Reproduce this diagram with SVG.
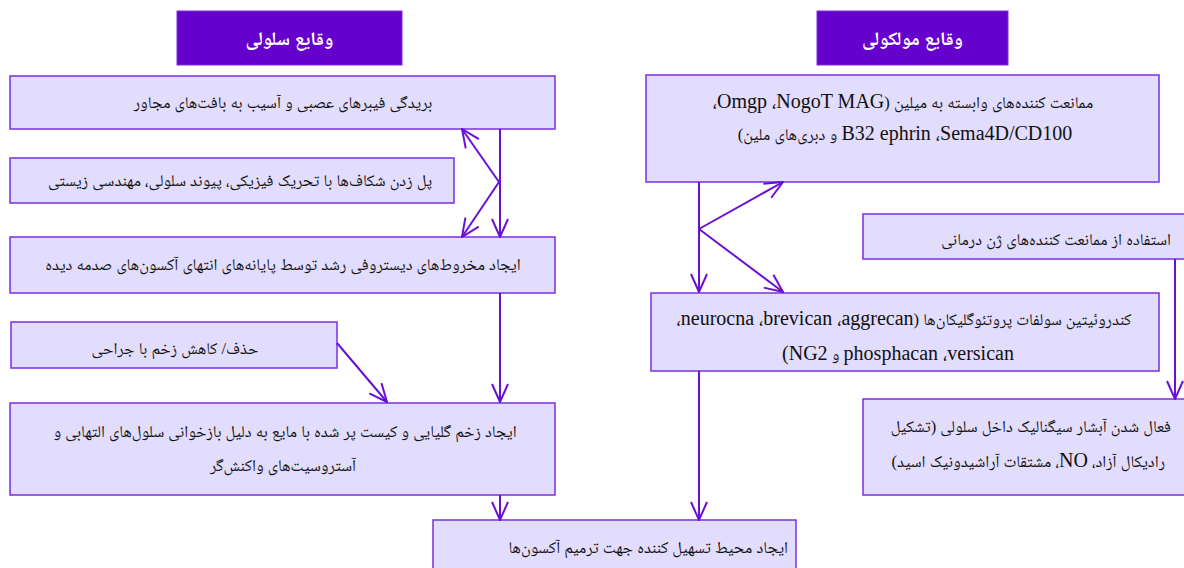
<svg xmlns="http://www.w3.org/2000/svg" width="1184" height="568" viewBox="0 0 1184 568">
<style>
.hdr{fill:#6600cc;stroke:#7b2fe0;stroke-width:1}
.hdrt{fill:#ffffff;font-family:"Liberation Serif","Noto Naskh Arabic","Noto Sans Arabic","DejaVu Sans",serif;font-size:19px;font-weight:bold;text-anchor:middle;direction:rtl}
.box{fill:#e2dcfd;stroke:#7b2fe0;stroke-width:1.5}
.t{fill:#111111;font-family:"Liberation Serif","Noto Naskh Arabic","Noto Sans Arabic","DejaVu Sans",serif;font-size:16.5px;direction:rtl}
.lat{font-size:20px}
.c{text-anchor:middle}
.r{text-anchor:start}
.ln{fill:none;stroke:#6a10d6;stroke-width:2;marker-end:url(#ah)}
</style>
<defs>
<marker id="ah" markerUnits="userSpaceOnUse" markerWidth="20" markerHeight="20" viewBox="0 0 20 20" refX="19" refY="10" orient="auto">
<path d="M1,2 L19,10 L1,18" fill="none" stroke="#6a10d6" stroke-width="2"/>
</marker>
</defs>
<rect width="1184" height="568" fill="#ffffff"/>

<g id="hdr-cell">
<rect class="hdr" x="177" y="11" width="225" height="54"/>
<text class="hdrt" x="289.5" y="45">وقایع سلولی</text>
</g>
<g id="hdr-mol">
<rect class="hdr" x="817" y="11" width="191" height="54"/>
<text class="hdrt" x="912.5" y="45">وقایع مولکولی</text>
</g>

<g id="n1">
<rect class="box" x="10" y="76" width="545" height="53"/>
<text class="t c" x="283" y="108">بریدگی فیبرهای عصبی و آسیب به بافت‌های مجاور</text>
</g>
<g id="n2">
<rect class="box" x="10" y="158" width="444" height="45"/>
<text class="t c" x="240" y="186">پل زدن شکاف‌ها با تحریک فیزیکی، پیوند سلولی، مهندسی زیستی</text>
</g>
<g id="n3">
<rect class="box" x="10" y="237" width="545" height="56"/>
<text class="t c" x="283" y="270">ایجاد مخروط‌های دیستروفی رشد توسط پایانه‌های انتهای آکسون‌های صدمه دیده</text>
</g>
<g id="n4">
<rect class="box" x="11" y="322" width="326" height="46"/>
<text class="t c" x="175" y="354">حذف/ کاهش زخم با جراحی</text>
</g>
<g id="n5">
<rect class="box" x="10" y="403" width="545" height="92"/>
<text class="t c" x="285" y="437">ایجاد زخم گلیایی و کیست پر شده با مایع به دلیل بازخوانی سلول‌های التهابی و</text>
<text class="t c" x="283" y="471">آستروسیت‌های واکنش‌گر</text>
</g>
<g id="n6">
<rect class="box" x="433" y="520" width="363" height="56"/>
<text class="t r" x="788" y="553">ایجاد محیط تسهیل کننده جهت ترمیم آکسون‌ها</text>
</g>

<g id="m1">
<rect class="box" x="646" y="75" width="513" height="107"/>
<text class="t c" x="903" y="108">ممانعت کننده‌های وابسته به میلین (<tspan class="lat">&#x2066;Omgp ،NogoT MAG&#x2069;،</tspan></text>
<text class="t c" x="905" y="140"><tspan class="lat">&#x2066;B32 ephrin ،Sema4D/CD100&#x2069;</tspan> و دبری‌های ملین)</text>
</g>
<g id="m2">
<rect class="box" x="863" y="214" width="330" height="45"/>
<text class="t r" x="1171" y="245">استفاده از ممانعت کننده‌های ژن درمانی</text>
</g>
<g id="m3">
<rect class="box" x="651" y="293" width="508" height="78"/>
<text class="t c" x="904" y="325">کندروئیتین سولفات پروتئوگلیکان‌ها (<tspan class="lat">&#x2066;neurocna ،brevican ،aggrecan&#x2069;،</tspan></text>
<text class="t c" x="898" y="360"><tspan class="lat">versican&#x200F;، phosphacan</tspan> و <tspan class="lat">NG2)</tspan></text>
</g>
<g id="m4">
<rect class="box" x="863" y="399" width="330" height="96"/>
<text class="t r" x="1171" y="432">فعال شدن آبشار سیگنالیک داخل سلولی (تشکیل</text>
<text class="t r" x="1165" y="467">رادیکال آزاد، <tspan class="lat">NO</tspan>، مشتقات آراشیدونیک اسید)</text>
</g>

<g id="connectors">
<path class="ln" d="M500,129 V237"/>
<path class="ln" d="M499,182 L462,129"/>
<path class="ln" d="M499,182 L462,237"/>
<path class="ln" d="M500,293 V402"/>
<path class="ln" d="M337,343 L387,402"/>
<path class="ln" d="M500,495 V520"/>
<path class="ln" d="M699,182 V292"/>
<path class="ln" d="M699,229 L783,182"/>
<path class="ln" d="M699,229 L783,292"/>
<path class="ln" d="M699,371 V520"/>
<path class="ln" d="M1175,259 V399"/>
</g>
</svg>
